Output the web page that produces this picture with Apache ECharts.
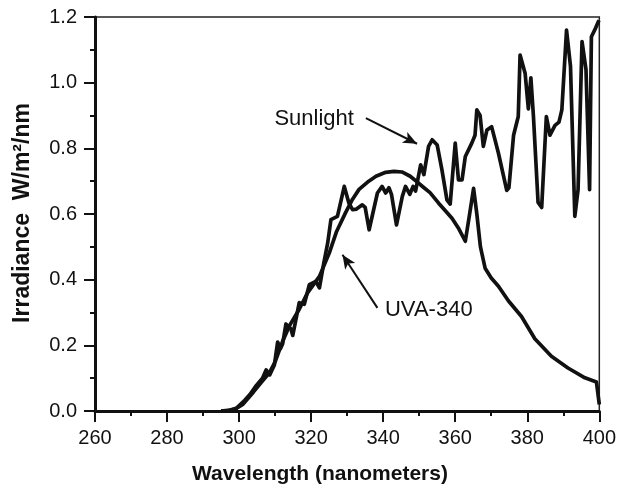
<!DOCTYPE html>
<html><head><meta charset="utf-8">
<script src="https://cdn.jsdelivr.net/npm/echarts@6/dist/echarts.min.js"></script>
<style>html,body{margin:0;padding:0;background:#fff}#c{width:619px;height:496px}</style>
</head><body><div id="c"></div>
<script>
// Sunlight spectrum (wavelength nm, irradiance W/m2/nm)
var sunWl  = [295,297.5,299.2,301.5,303,304.8,306.5,307.5,308.5,309.8,310.7,311.5,312.1,313,314.4,314.9,316.7,318.1,319.5,321.3,322.3,323.5,324.6,325.5,327.3,329.2,330.5,331.5,332.6,334.2,335,336.1,338.4,339.7,340.7,341.6,342.3,343.7,345.3,346.2,347.4,348.3,349,350.4,351.3,352.6,353.6,355,356.3,357.7,358.6,360,360.9,361.9,362.8,364.6,365.5,366,366.9,367.8,368.8,370.1,372,374.3,374.9,376.2,377.5,378,379.4,380.3,381,381.7,383,384,385.3,386.3,387.7,388.8,389.6,390.9,392,393.2,394.1,395.2,396.3,397.3,397.8,398.7,399.9];
var sunVal = [0,0.003,0.008,0.032,0.05,0.078,0.1,0.125,0.11,0.14,0.21,0.19,0.205,0.265,0.25,0.23,0.33,0.325,0.385,0.395,0.375,0.45,0.512,0.583,0.593,0.684,0.633,0.613,0.615,0.628,0.62,0.552,0.664,0.684,0.664,0.68,0.66,0.567,0.653,0.684,0.66,0.684,0.67,0.75,0.72,0.806,0.826,0.81,0.735,0.643,0.63,0.816,0.704,0.704,0.775,0.816,0.84,0.917,0.9,0.806,0.856,0.866,0.785,0.672,0.68,0.84,0.897,1.084,1.029,0.92,1.015,0.9,0.635,0.62,0.897,0.84,0.87,0.88,0.917,1.16,1.05,0.593,0.674,1.125,1.04,0.674,1.14,1.16,1.19];
// UVA-340 lamp spectrum
var uvaWl  = [295,297,299,301,304,306,308.4,310,312,314,316.7,319,322.3,325,327,329.6,331.5,333.3,336,338,340.7,343,345.2,347.5,349.5,351,353,355.4,357.5,359.1,361,362.8,364,365.1,366,367,368.3,370,372,374.8,378.4,382.1,386.7,391.3,396,399.2,400];
var uvaVal = [0,0.001,0.006,0.02,0.058,0.085,0.116,0.15,0.21,0.26,0.31,0.36,0.41,0.48,0.545,0.605,0.645,0.675,0.70,0.715,0.727,0.73,0.728,0.715,0.697,0.683,0.665,0.633,0.607,0.587,0.555,0.517,0.6,0.678,0.6,0.5,0.435,0.405,0.38,0.335,0.288,0.22,0.167,0.131,0.101,0.088,0.02];
var xTicks = [260,280,300,320,340,360,380,400];
var yTicks = [0,0.2,0.4,0.6,0.8,1.0,1.2];
var labels = ["Sunlight","UVA-340"];
var xTitle = "Wavelength (nanometers)";
var yTitle = "Irradiance  W/m\u00b2/nm";

function pairs(a,b){return a.map(function(v,i){return [v,b[i]];});}
var FONT = "Liberation Sans";
var chart = echarts.init(document.getElementById('c'), null, {renderer:'canvas'});
var axisCommon = {
  axisLine:{show:true,onZero:false,lineStyle:{color:'#111',width:3}},
  axisTick:{show:true,inside:false,length:11,lineStyle:{color:'#111',width:2}},
  minorTick:{show:true,splitNumber:2,length:5,lineStyle:{color:'#111',width:2}},
  splitLine:{show:false}
};
var option = {
  animation:false,
  backgroundColor:'#fff',
  grid:{left:95,right:18,top:17,bottom:85,show:true,borderColor:'#222',borderWidth:1.5,backgroundColor:'transparent'},
  xAxis:Object.assign({type:'value',min:xTicks[0],max:xTicks[xTicks.length-1],interval:20,
    axisLabel:{fontFamily:FONT,fontSize:20,color:'#111',margin:17}},axisCommon),
  yAxis:Object.assign({type:'value',min:yTicks[0],max:yTicks[yTicks.length-1],interval:0.2,
    axisLabel:{fontFamily:FONT,fontSize:20,color:'#111',margin:18,formatter:function(v){return v.toFixed(1);}}},axisCommon),
  series:[
    {type:'line',name:labels[1],data:pairs(uvaWl,uvaVal),showSymbol:false,lineStyle:{color:'#111',width:3.7,join:'round'},z:3},
    {type:'line',name:labels[0],data:pairs(sunWl,sunVal),showSymbol:false,lineStyle:{color:'#111',width:3.7,join:'round'},z:4,
     markLine:{silent:true,animation:false,symbol:['none','arrow'],symbolSize:[9,14],label:{show:false},
       lineStyle:{color:'#111',width:2,type:'solid'},
       data:[
         [{coord:[335.2,0.892]},{coord:[349.4,0.814]}],
         [{coord:[338.4,0.314]},{coord:[328.7,0.476]}]
       ]}}
  ]
};
chart.setOption(option);
var p1 = chart.convertToPixel({gridIndex:0},[309.8,0.887]);
var p2 = chart.convertToPixel({gridIndex:0},[340.5,0.304]);
chart.setOption({graphic:[
  {type:'text',left:p1[0],top:p1[1]-12,style:{text:labels[0],font:'22px "Liberation Sans"',fill:'#111'}},
  {type:'text',left:p2[0],top:p2[1]-12,style:{text:labels[1],font:'22px "Liberation Sans"',fill:'#111'}},
  {type:'text',x:320,y:474,style:{text:xTitle,font:'bold 21px "Liberation Sans"',fill:'#111',align:'center',verticalAlign:'middle'}},
  {type:'text',x:23,y:213,rotation:Math.PI/2,style:{text:yTitle,font:'bold 23px "Liberation Sans"',fill:'#111',align:'center',verticalAlign:'middle'}}
]});
</script></body></html>
